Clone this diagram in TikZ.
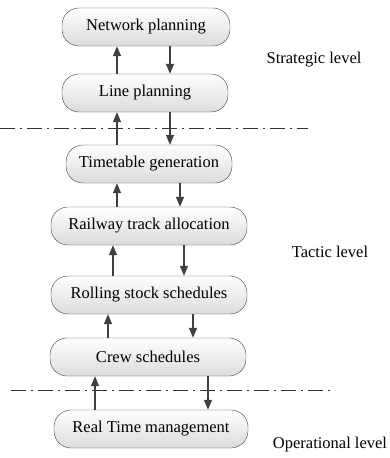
\documentclass[tikz,border=0pt]{standalone}
\usepackage{fontspec}
\setmainfont{Liberation Serif}
\usetikzlibrary{arrows.meta}

\begin{document}
\begin{tikzpicture}[
    x=1pt, y=-1pt, >={Triangle[length=10pt, width=8pt]},
    stage/.style={draw=black!75, thin, rounded corners=17pt, minimum height=38pt,
        top color=white, bottom color=black!14, font=\fontsize{16.5}{19}\selectfont},
    flow/.style={->, draw=black!75, fill=black!75, line width=1.5pt},
    boundary/.style={draw=black!80, line width=1pt, dash pattern=on 15pt off 5pt on 2pt off 5pt},
    levelname/.style={font=\fontsize{16.5}{19}\selectfont}
]
    \useasboundingbox (0,0) rectangle (389,458);

    \node[stage, minimum width=168pt] (net)  at (146,27)  {Network planning};
    \node[stage, minimum width=166pt] (line) at (145,93)  {Line planning};
    \node[stage, minimum width=166pt] (tt)   at (149,164) {Timetable generation};
    \node[stage, minimum width=196pt] (rail) at (149,226) {Railway track allocation};
    \node[stage, minimum width=196pt] (roll) at (149,295) {Rolling stock schedules};
    \node[stage, minimum width=196pt] (crew) at (148,357) {Crew schedules};
    \node[stage, minimum width=194pt] (real) at (151,429) {Real Time management};

    \node[levelname] (strat) at (314,60)  {Strategic level};
    \node[levelname] (tact)  at (330,252) {Tactic level};
    \node[levelname] (oper)  at (330,445) {Operational level};

    % level boundaries
    \coordinate (cut1w) at (0,128);
    \coordinate (cut1e) at (308,128);
    \coordinate (cut2w) at (11,390);
    \coordinate (cut2e) at (335,390);
    \draw[boundary] (cut1w) -- (cut1e);
    \draw[boundary] (cut2w) -- (cut2e);

    % feedback up, results down
    \draw[flow] (line.north -| 117,0) -- (net.south -| 117,0);
    \draw[flow] (net.south -| 170,0)  -- (line.north -| 170,0);
    \draw[flow] (tt.north -| 117,0)   -- (line.south -| 117,0);
    \draw[flow] (line.south -| 170,0) -- (tt.north -| 170,0);
    \draw[flow] (rail.north -| 117,0) -- (tt.south -| 117,0);
    \draw[flow] (tt.south -| 180,0)   -- (rail.north -| 180,0);
    \draw[flow] (roll.north -| 113,0) -- (rail.south -| 113,0);
    \draw[flow] (rail.south -| 184,0) -- (roll.north -| 184,0);
    \draw[flow] (crew.north -| 108,0) -- (roll.south -| 108,0);
    \draw[flow] (roll.south -| 193,0) -- (crew.north -| 193,0);
    \draw[flow] (real.north -| 95,0)  -- (crew.south -| 95,0);
    \draw[flow] (crew.south -| 208,0) -- (real.north -| 208,0);
\end{tikzpicture}
\end{document}
